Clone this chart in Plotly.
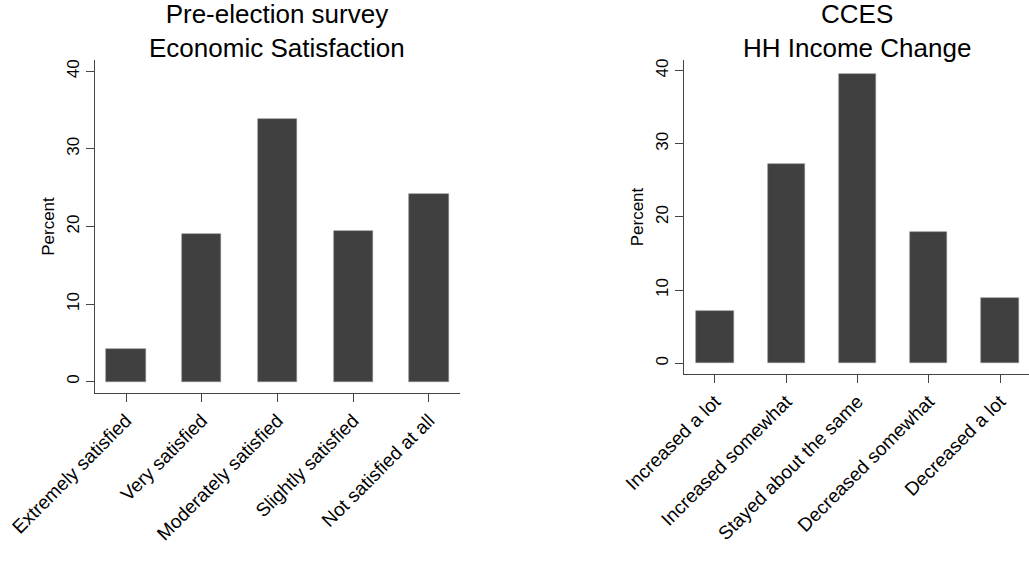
import plotly.graph_objects as go

W, H = 1029, 573

left_title = ["Pre-election survey", "Economic Satisfaction"]
left_cats = ["Extremely satisfied", "Very satisfied", "Moderately satisfied",
             "Slightly satisfied", "Not satisfied at all"]
left_vals = [4.2, 19.0, 33.8, 19.4, 24.2]

right_title = ["CCES", "HH Income Change"]
right_cats = ["Increased a lot", "Increased somewhat", "Stayed about the same",
              "Decreased somewhat", "Decreased a lot"]
right_vals = [7.1, 27.2, 39.5, 17.9, 8.9]

y_ticks = [0, 10, 20, 30, 40]

FONT = "Liberation Sans, Arial, sans-serif"
BAR = "#404040"
AX = "#444444"

fig = go.Figure()
fig.add_trace(go.Bar(x=list(range(len(left_cats))), y=left_vals, width=0.52,
                     marker=dict(color=BAR, line=dict(color="#8a8a8a", width=0.6)),
                     xaxis="x", yaxis="y", showlegend=False))
fig.add_trace(go.Bar(x=list(range(len(right_cats))), y=right_vals, width=0.52,
                     marker=dict(color=BAR, line=dict(color="#8a8a8a", width=0.6)),
                     xaxis="x2", yaxis="y2", showlegend=False))

def px_x(p):
    return p / W

def px_y(p):
    return 1 - p / H

common_x = dict(showline=True, linecolor=AX, linewidth=1, ticks="outside",
                ticklen=8, tickcolor=AX, tickwidth=1, tickangle=-45,
                showgrid=False, zeroline=False, tickmode="array", automargin=False,
                tickfont=dict(family=FONT, size=19, color="#000"))
common_y = dict(showline=True, linecolor=AX, linewidth=1, ticks="outside",
                ticklen=8, tickcolor=AX, tickwidth=1, tickangle=-90,
                showgrid=False, zeroline=False, tickmode="array", automargin=False,
                tickvals=y_ticks, ticktext=[str(v) for v in y_ticks],
                range=[-1.46, 41.45],
                tickfont=dict(family=FONT, size=17, color="#000"),
                title=dict(text="Percent", font=dict(family=FONT, size=17, color="#000"),
                           standoff=5))

fig.update_layout(
    width=W, height=H,
    margin=dict(l=0, r=0, t=0, b=0, autoexpand=False),
    paper_bgcolor="white", plot_bgcolor="white",
    bargap=0,
    xaxis=dict(common_x, domain=[px_x(95), px_x(460)], range=[-0.41, 4.41],
               tickvals=list(range(len(left_cats))), ticktext=left_cats, anchor="y"),
    yaxis=dict(common_y, domain=[px_y(393), px_y(60)], anchor="x"),
    xaxis2=dict(common_x, domain=[px_x(684), 1.0], range=[-0.435, 4.407],
                tickvals=list(range(len(right_cats))), ticktext=right_cats, anchor="y2"),
    yaxis2=dict(common_y, domain=[px_y(374), px_y(60)], anchor="x2"),
)

def add_title(lines, xc):
    fig.add_annotation(text="<br>".join(lines), x=px_x(xc), y=px_y(31),
                       xref="paper", yref="paper", showarrow=False,
                       xanchor="center", yanchor="middle", align="center",
                       font=dict(family=FONT, size=26, color="#000"))

add_title(left_title, 277)
add_title(right_title, 857)

fig.write_html("out.html", config={"displayModeBar": False},
               post_script="document.body.style.margin='0';document.body.style.padding='0';document.body.style.overflow='hidden';")
